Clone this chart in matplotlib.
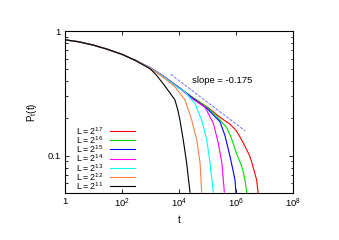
import matplotlib
matplotlib.use('Agg')
import matplotlib.pyplot as plt
from matplotlib.ticker import FixedLocator, NullFormatter

plt.rcParams['font.family'] = ['Liberation Sans', 'DejaVu Sans']
plt.rcParams['mathtext.fontset'] = 'custom'
plt.rcParams['mathtext.rm'] = 'Liberation Sans'

# values
t_common = [1, 3, 10, 30, 100, 300]
p_common = [0.85, 0.82, 0.77, 0.715, 0.65, 0.58]

t_17 = [1e3, 3e3, 1e4, 3e4, 1e5, 3e5, 6e5, 1e6, 1.5e6, 2.1e6, 3e6, 3.6e6, 4.6e6, 5.3e6, 6e6]
p_17 = [0.505, 0.43, 0.352, 0.293, 0.245, 0.20, 0.18, 0.16, 0.137, 0.118, 0.10, 0.088, 0.072, 0.064, 0.05]
t_16 = [1e3, 3e3, 1e4, 3e4, 1e5, 2e5, 4.7e5, 6.6e5, 1.05e6, 1.5e6, 1.8e6, 2.1e6, 2.4e6]
p_16 = [0.505, 0.43, 0.352, 0.293, 0.243, 0.21, 0.168, 0.142, 0.104, 0.085, 0.074, 0.062, 0.05]
t_15 = [1e3, 3e3, 1e4, 3e4, 1e5, 2.75e5, 4.1e5, 6.2e5, 8e5, 9.2e5, 1e6]
p_15 = [0.505, 0.43, 0.352, 0.29, 0.237, 0.187, 0.145, 0.098, 0.075, 0.064, 0.05]
t_14 = [1e3, 3e3, 1e4, 3e4, 8.2e4, 1.6e5, 2.4e5, 3.2e5, 3.9e5]
p_14 = [0.505, 0.43, 0.35, 0.285, 0.245, 0.182, 0.126, 0.087, 0.051]
t_13 = [1e3, 3e3, 1e4, 1.62e4, 3.6e4, 6.25e4, 9.4e4, 1.23e5, 1.6e5]
p_13 = [0.503, 0.428, 0.348, 0.325, 0.263, 0.193, 0.134, 0.087, 0.051]
t_12 = [1e3, 3e3, 7.2e3, 1.62e4, 2.8e4, 4.2e4, 5.5e4, 6.25e4]
p_12 = [0.50, 0.42, 0.357, 0.28, 0.193, 0.134, 0.087, 0.051]
t_11 = [1e3, 1.65e3, 3e3, 5e3, 7.2e3, 9e3, 1.08e4, 1.41e4, 1.86e4, 2.43e4]
p_11 = [0.495, 0.44, 0.37, 0.315, 0.28, 0.235, 0.193, 0.134, 0.087, 0.051]

exponents = [17, 16, 15, 14, 13, 12, 11]
series_t = [t_17, t_16, t_15, t_14, t_13, t_12, t_11]
series_p = [p_17, p_16, p_15, p_14, p_13, p_12, p_11]
colors = ['#ff0000', '#00dd00', '#0000ff', '#ff00ff', '#00ffff', '#ff8040', '#000000']

slope_t = [5.1e3, 2.1e6]
slope_p = [0.45, 0.158]

fig = plt.figure(figsize=(3.39, 2.40), dpi=100)
ax = fig.add_axes([0.1917, 0.1958, 0.6726, 0.675])

for i, (e, ts, ps, c) in enumerate(zip(exponents, series_t, series_p, colors)):
    # the early part is the same for every system size
    ax.plot(t_common + ts, p_common + ps, color=c, lw=0.8)
    # gnuplot style key: label on the left, sample line on the right
    yk = (193 - (130.7 + 9.27 * i)) / 162
    ax.plot([45 / 228, 70 / 228], [yk, yk], color=c, lw=0.8, transform=ax.transAxes)
    ax.text(11 / 228, yk, r'$\mathregular{L = 2^{%d}}$' % e, transform=ax.transAxes,
            fontsize=6.4, va='center', ha='left')

ax.plot(slope_t, slope_p, color='#7070ff', lw=0.7, ls=(0, (3, 1.5)))
ax.text(2.86e4, 0.40, 'slope = -0.175', fontsize=6.8, va='center', ha='left')

ax.set_xscale('log')
ax.set_yscale('log')
ax.set_xlim(1, 1e8)
ax.set_ylim(0.0502, 1)

ax.xaxis.set_major_locator(FixedLocator([1, 1e2, 1e4, 1e6, 1e8]))
ax.xaxis.set_minor_locator(FixedLocator([]))
ax.set_xticklabels(['1', '$\\mathregular{10^2}$', '$\\mathregular{10^4}$',
                    '$\\mathregular{10^6}$', '$\\mathregular{10^8}$'])
ax.yaxis.set_major_locator(FixedLocator([0.1, 1]))
ax.yaxis.set_minor_locator(FixedLocator([0.06, 0.07, 0.08, 0.09, 0.2, 0.3, 0.4,
                                         0.5, 0.6, 0.7, 0.8, 0.9]))
ax.yaxis.set_minor_formatter(NullFormatter())
ax.set_yticklabels(['0.1', '1'])

ax.tick_params(which='both', direction='in', top=True, right=True,
               labelsize=6.8, pad=3)
ax.tick_params(which='major', length=3, width=0.6)
ax.tick_params(which='minor', length=1.8, width=0.6)
for s in ax.spines.values():
    s.set_linewidth(0.8)

ax.set_xlabel('t', fontsize=7, labelpad=3)
ax.set_ylabel('$\\mathregular{P_t(t)}$', fontsize=7, labelpad=6)

fig.savefig('out.png', dpi=100)
